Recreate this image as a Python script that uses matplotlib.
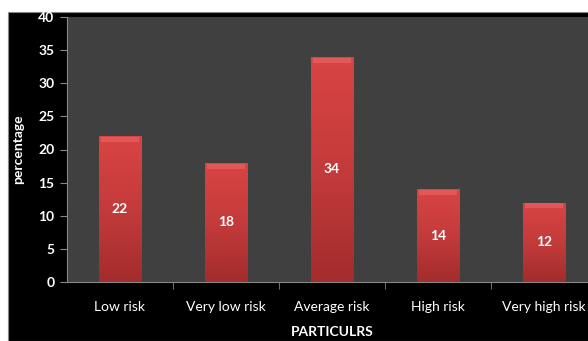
import numpy as np
import matplotlib
matplotlib.use("Agg")
import matplotlib.pyplot as plt
from matplotlib.patches import Rectangle

# data
categories = ["Low risk", "Very low risk", "Average risk", "High risk", "Very high risk"]
values = [22, 18, 34, 14, 12]
yticks = [0, 5, 10, 15, 20, 25, 30, 35, 40]

plt.rcParams['font.family'] = ['Lato', 'DejaVu Sans']

fig = plt.figure(figsize=(5.88, 3.41), dpi=100, facecolor="white")
# black chart background, offset a little from the top-left like the screenshot
fig.patches.append(Rectangle((8 / 588, 0), 1, 329 / 341, transform=fig.transFigure,
                             facecolor="black", edgecolor="#888888", lw=0.8, zorder=-1))

ax = fig.add_axes([67 / 588, 59 / 341, 530 / 588, 265 / 341])
ax.set_facecolor("#404040")

x = np.arange(len(categories))
bars = ax.bar(x, values, width=0.4, color="#c43a3a", edgecolor="#8a2020", lw=0.6, zorder=2)

# vertical gradient + lighter cap on each bar
grad = np.linspace(0, 1, 256).reshape(-1, 1)
cmap = matplotlib.colors.LinearSegmentedColormap.from_list(
    "redgrad", ["#a32c2c", "#c43b3b", "#d94444"])
for b, v in zip(bars, values):
    x0 = b.get_x()
    w = b.get_width()
    im = ax.imshow(grad, extent=(x0, x0 + w, 0, v), origin="lower", aspect="auto",
                   cmap=cmap, zorder=2.5)
    im.set_clip_path(b)
    ax.add_patch(Rectangle((x0 + 0.02, v - 0.9), w - 0.04, 0.75, facecolor="#e86060",
                           edgecolor="none", alpha=0.7, zorder=3))
    ax.text(b.get_x() + w / 2, v / 2, str(v), ha="center", va="center", color="white",
            fontsize=10, fontweight="bold", zorder=4)

ax.set_xlim(-0.5, len(categories) - 0.5)
ax.set_ylim(0, 40)
ax.set_yticks(yticks)
ax.set_yticklabels([str(t) for t in yticks], color="white", fontsize=10, fontweight="bold")
ax.set_xticks(x)
ax.set_xticklabels(categories, color="white", fontsize=10)
ax.tick_params(axis="x", length=0, pad=14)
ax.set_xticks(np.arange(len(categories)) + 0.5, minor=True)
ax.tick_params(axis="x", which="minor", length=5, color="#888888")
ax.tick_params(axis="y", length=5, color="#888888", pad=4)

for s in ["top", "right"]:
    ax.spines[s].set_visible(False)
for s in ["left", "bottom"]:
    ax.spines[s].set_color("#888888")

ax.set_ylabel("percentage", color="white", fontsize=10, fontweight="bold", labelpad=10)
ax.set_xlabel("PARTICULRS", color="white", fontsize=10, fontweight="bold", labelpad=9)

fig.savefig("out.png", dpi=100, facecolor=fig.get_facecolor())
